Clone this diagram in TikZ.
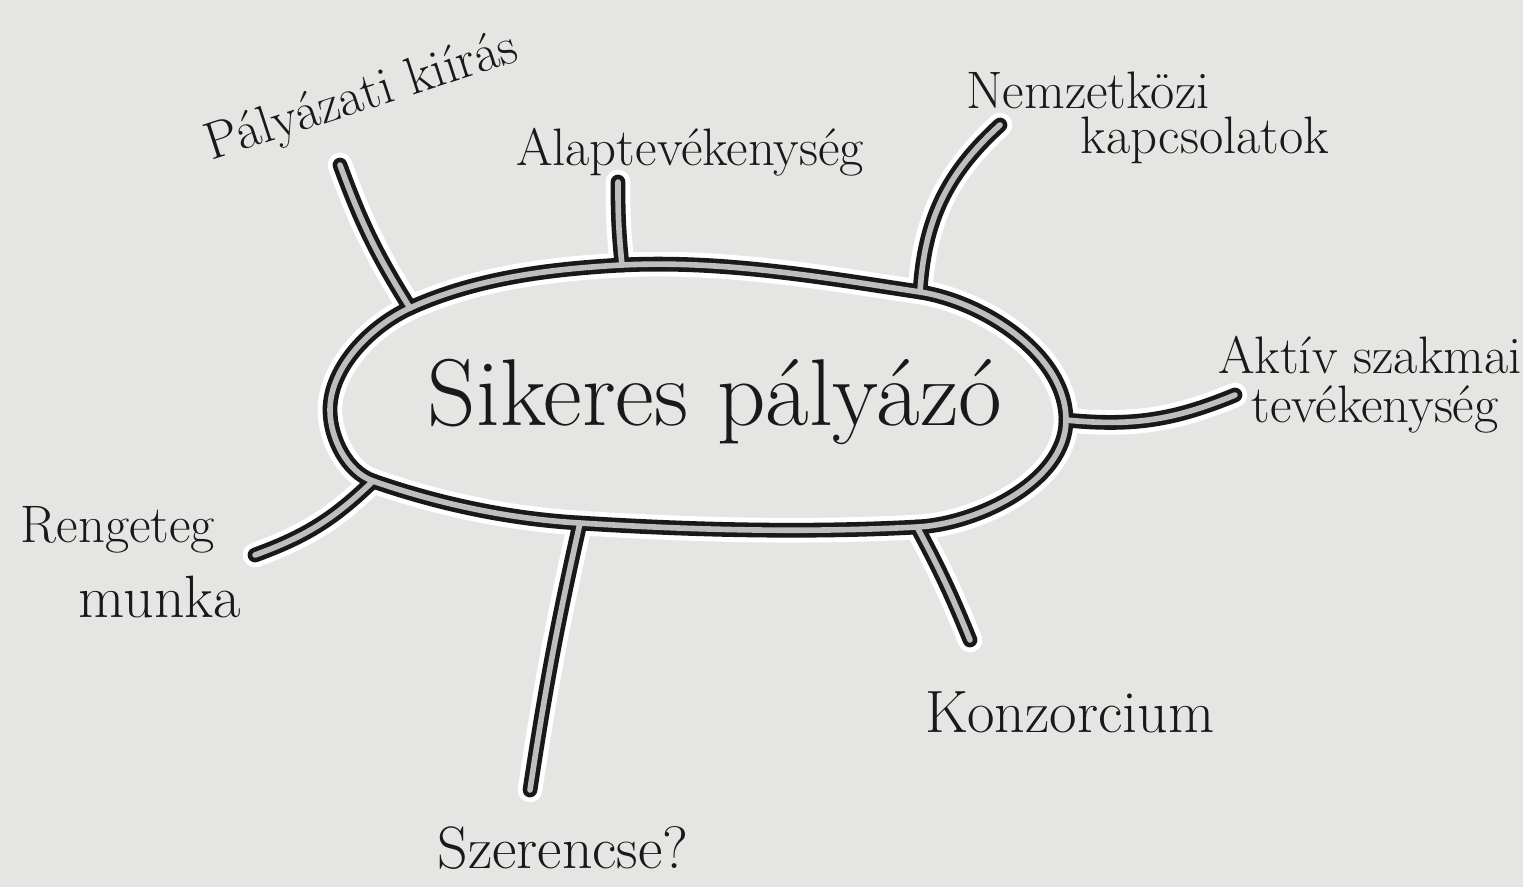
\documentclass[tikz,border=0pt]{standalone}
\usetikzlibrary{shapes.geometric}
\definecolor{mypaper}{RGB}{229,229,227}
\definecolor{myink}{RGB}{25,25,25}
\definecolor{mycore}{RGB}{190,190,190}

\begin{document}
\begin{tikzpicture}[x=0.01cm,y=-0.01cm,
  halo/.style={line width=7pt,white,line cap=round},
  ink/.style={line width=4.2pt,myink,line cap=round},
  core/.style={line width=1.6pt,mycore,line cap=round},
  hubnode/.style={ellipse,minimum width=7.2cm,minimum height=2.5cm,inner sep=0pt,
    font=\fontsize{27}{30}\selectfont,text=myink},
  lbl/.style={font=\fontsize{15}{17}\selectfont,text=myink,inner sep=1pt},
  biglbl/.style={lbl,font=\fontsize{17}{19}\selectfont}]

  \fill[mypaper] (0,0) rectangle (1523,887);
  \useasboundingbox (0,0) rectangle (1523,887);

  \node[hubnode] (hub) at (715,402) {Sikeres pályázó};

  % where the branches meet the hub
  \coordinate (hub-left) at (330,410);
  \coordinate (kiiras-foot) at (410,308);
  \coordinate (alap-foot) at (622,265);
  \coordinate (nemzet-foot) at (920,292);
  \coordinate (aktiv-foot) at (1066,420);
  \coordinate (konz-foot) at (917,527);
  \coordinate (szer-foot) at (580,523);
  \coordinate (reng-foot) at (373,481);

  % free ends of the branches
  \coordinate (kiiras-end) at (340,165);
  \coordinate (alap-end) at (618,182);
  \coordinate (nemzet-end) at (1000,125);
  \coordinate (aktiv-end) at (1235,395);
  \coordinate (konz-end) at (970,640);
  \coordinate (szer-end) at (530,790);
  \coordinate (reng-end) at (255,555);

  % draw outline and branches, layer by layer
  \foreach \layer in {halo,ink,core} {
    \draw[\layer] (hub-left) .. controls (330,367) and (371,326) .. (kiiras-foot)
      .. controls (476,278) and (550,269) .. (alap-foot)
      .. controls (722,260) and (821,277) .. (nemzet-foot)
      .. controls (984,302) and (1066,355) .. (aktiv-foot)
      .. controls (1066,481) and (978,524) .. (konz-foot)
      .. controls (805,533) and (692,530) .. (szer-foot)
      .. controls (510,519) and (439,504) .. (reng-foot)
      .. controls (347,472) and (330,438) .. cycle;
    \draw[\layer] (kiiras-foot) to[bend left=6] (kiiras-end);
    \draw[\layer] (alap-foot) to[bend left=3] (alap-end);
    \draw[\layer] (nemzet-foot) to[bend left=22] (nemzet-end);
    \draw[\layer] (aktiv-foot) to[bend right=14] (aktiv-end);
    \draw[\layer] (konz-foot) to[bend left=3] (konz-end);
    \draw[\layer] (szer-foot) to[bend right=2] (szer-end);
    \draw[\layer] (reng-foot) to[bend left=12] (reng-end);
  }

  % labels
  \node[lbl,rotate=18] (kiiras) at (362,98) {Pályázati kiírás};
  \node[lbl] (alap) at (690,152) {Alaptevékenység};
  \node[lbl] (nemzet1) at (1088,90) {Nemzetközi};
  \node[lbl] (nemzet2) at (1205,140) {kapcsolatok};
  \node[lbl] (aktiv1) at (1370,355) {Aktív szakmai};
  \node[lbl] (aktiv2) at (1375,410) {tevékenység};
  \node[biglbl] (konz) at (1070,712) {Konzorcium};
  \node[biglbl] (szer) at (563,848) {Szerencse?};
  \node[lbl] (reng1) at (118,530) {Rengeteg};
  \node[biglbl] (reng2) at (160,597) {munka};

\end{tikzpicture}
\end{document}
